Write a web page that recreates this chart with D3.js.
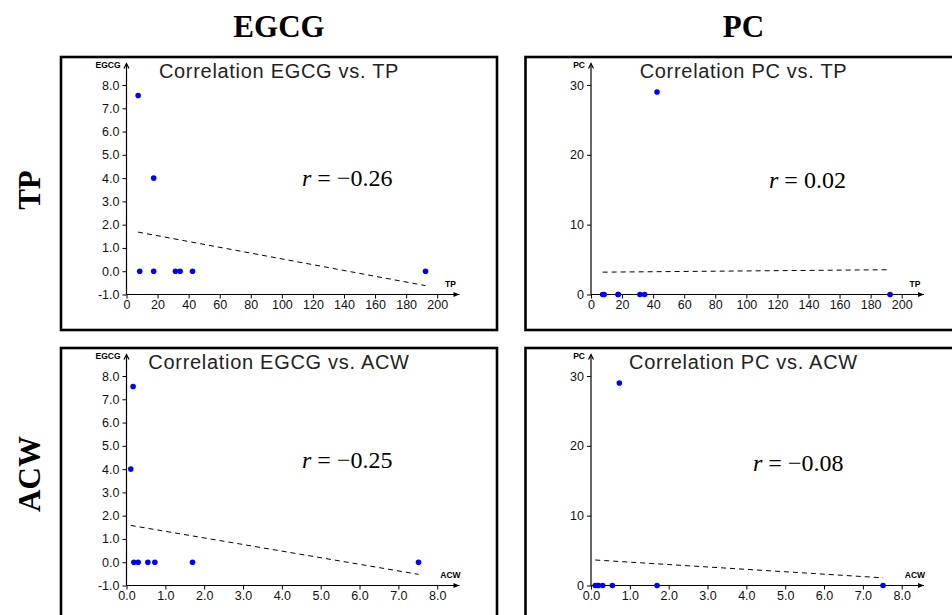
<!DOCTYPE html>
<html>
<head>
<meta charset="utf-8">
<script src="https://cdn.jsdelivr.net/npm/d3@7"></script>
<style>
  html, body { margin: 0; padding: 0; background: #fff; }
  svg { display: block; }
  .tick text { font-family: "Liberation Sans", Arial, sans-serif; font-size: 12.5px; fill: #111; }
  .tick line { stroke: #000; stroke-width: 1; }
</style>
</head>
<body>
<svg id="chart" width="952" height="615"></svg>
<script>
// Eight samples: total polyphenols (TP), antioxidant capacity (ACW), EGCG and PC content
const tp   = [7.5, 17.5, 42.5, 192.5, 8.5, 17.5, 31.5, 34.5];
const acw  = [0.17, 0.11, 0.73, 7.52, 0.19, 0.30, 0.55, 1.70];
const egcg = [7.55, 4.0, 0, 0, 0, 0, 0, 0];
const pc   = [0, 0, 29, 0, 0, 0, 0, 0];

// Least-squares trend lines, as [x, y] end points
const fitEgcgTp  = [[7.5, 1.68], [192.5, -0.62]];
const fitPcTp    = [[7.5, 3.2], [192.5, 3.55]];
const fitEgcgAcw = [[0.11, 1.58], [7.52, -0.52]];
const fitPcAcw   = [[0.11, 3.65], [7.52, 1.1]];

// Correlation coefficients
const rValues = [-0.26, 0.02, -0.25, -0.08];

// Axis ticks
const egcgTicks = [-1, 0, 1, 2, 3, 4, 5, 6, 7, 8];
const pcTicks   = [0, 10, 20, 30];
const tpTicks   = [0, 20, 40, 60, 80, 100, 120, 140, 160, 180, 200];
const acwTicks  = [0, 1, 2, 3, 4, 5, 6, 7, 8];

const colNames = ["EGCG", "PC"];
const rowNames = ["TP", "ACW"];

const svg = d3.select("#chart");
const fmtR = v => (v < 0 ? "\u2212" : "") + Math.abs(v).toFixed(2);
// tick labels use a plain hyphen for negatives
const fmt1 = v => d3.format(".1f")(v).replace("\u2212", "-");
const fmt0 = v => d3.format("d")(v).replace("\u2212", "-");

// grid geometry
const colX = [61, 525.5];      // panel left edges
const rowY = [57, 348];        // panel top edges
const boxW = 436, boxH = 273;

const panels = [
  { row: 0, col: 0, xs: tp,  ys: egcg, xName: "TP",  yName: "EGCG", xDom: [0, 200], yDom: [-1, 8],  xT: tpTicks,  yT: egcgTicks, yFmt: fmt1, xFmt: fmt0, fit: fitEgcgTp,  r: rValues[0], rPos: [302, 186] },
  { row: 0, col: 1, xs: tp,  ys: pc,   xName: "TP",  yName: "PC",   xDom: [0, 200], yDom: [0, 30],  xT: tpTicks,  yT: pcTicks,   yFmt: fmt0, xFmt: fmt0, fit: fitPcTp,    r: rValues[1], rPos: [769, 188] },
  { row: 1, col: 0, xs: acw, ys: egcg, xName: "ACW", yName: "EGCG", xDom: [0, 8],   yDom: [-1, 8],  xT: acwTicks, yT: egcgTicks, yFmt: fmt1, xFmt: fmt1, fit: fitEgcgAcw, r: rValues[2], rPos: [302, 468] },
  { row: 1, col: 1, xs: acw, ys: pc,   xName: "ACW", yName: "PC",   xDom: [0, 8],   yDom: [0, 30],  xT: acwTicks, yT: pcTicks,   yFmt: fmt0, xFmt: fmt1, fit: fitPcAcw,   r: rValues[3], rPos: [753, 471] }
];

// column headers
colNames.forEach((name, i) => {
  svg.append("text")
    .attr("x", colX[i] + boxW / 2).attr("y", 37)
    .attr("text-anchor", "middle")
    .attr("font-family", "'Liberation Serif', 'Times New Roman', serif")
    .attr("font-weight", "bold").attr("font-size", 31)
    .text(name);
});

// row headers, rotated
[190, 474].forEach((cy, i) => {
  svg.append("text")
    .attr("transform", `translate(40,${cy}) rotate(-90)`)
    .attr("text-anchor", "middle")
    .attr("font-family", "'Liberation Serif', 'Times New Roman', serif")
    .attr("font-weight", "bold").attr("font-size", 31)
    .text(rowNames[i]);
});

panels.forEach(p => {
  const left = colX[p.col], top = rowY[p.row];
  const g = svg.append("g");

  // frame
  g.append("rect")
    .attr("x", left).attr("y", top)
    .attr("width", boxW).attr("height", boxH + (p.row === 1 ? 20 : 0))
    .attr("fill", "none").attr("stroke", "#000").attr("stroke-width", 2.6);

  const x0 = left + 65.5;
  const x = d3.scaleLinear().domain(p.xDom).range([x0, x0 + 310.7]);
  const y = d3.scaleLinear().domain(p.yDom).range([top + 237.5, top + 28]);
  const yBase = y(p.yDom[0]);

  // title
  g.append("text")
    .attr("x", left + boxW / 2).attr("y", top + 20.5)
    .attr("text-anchor", "middle")
    .attr("font-family", "'Liberation Sans', Arial, sans-serif")
    .attr("font-size", 20).attr("letter-spacing", 0.7)
    .attr("fill", "#222")
    .text(`Correlation ${p.yName} vs. ${p.xName}`);

  // axes
  const ax = g.append("g").attr("transform", `translate(0,${yBase})`)
    .call(d3.axisBottom(x).tickValues(p.xT).tickFormat(p.xFmt).tickSize(4).tickPadding(2));
  ax.select(".domain").remove();

  const ay = g.append("g").attr("transform", `translate(${x0},0)`)
    .call(d3.axisLeft(y).tickValues(p.yT).tickFormat(p.yFmt).tickSize(4).tickPadding(3));
  ay.select(".domain").remove();

  // axis lines with arrowheads
  const yTip = top + 6.5, xTip = x0 + 333;
  g.append("line").attr("x1", x0).attr("x2", x0).attr("y1", yBase).attr("y2", yTip)
    .attr("stroke", "#000").attr("stroke-width", 1.2);
  g.append("path").attr("d", `M${x0 - 2.5},${yTip + 5} L${x0},${yTip} L${x0 + 2.5},${yTip + 5}`)
    .attr("fill", "none").attr("stroke", "#000").attr("stroke-width", 1.2);
  g.append("line").attr("x1", x0).attr("x2", xTip).attr("y1", yBase).attr("y2", yBase)
    .attr("stroke", "#000").attr("stroke-width", 1.2);
  g.append("path").attr("d", `M${xTip - 6},${yBase - 2.5} L${xTip},${yBase} L${xTip - 6},${yBase + 2.5} Z`)
    .attr("fill", "#000");

  // axis names
  g.append("text")
    .attr("x", x0 - 6).attr("y", top + 10.5)
    .attr("text-anchor", "end")
    .attr("font-family", "'Liberation Sans', Arial, sans-serif")
    .attr("font-size", 8.5).attr("font-weight", "bold")
    .text(p.yName);
  g.append("text")
    .attr("x", xTip - 9).attr("y", yBase - 8)
    .attr("text-anchor", "middle")
    .attr("font-family", "'Liberation Sans', Arial, sans-serif")
    .attr("font-size", 8.5).attr("font-weight", "bold")
    .text(p.xName);

  // trend line
  g.append("path")
    .attr("d", d3.line().x(d => x(d[0])).y(d => y(d[1]))(p.fit))
    .attr("fill", "none").attr("stroke", "#000").attr("stroke-width", 1)
    .attr("stroke-dasharray", "5,4");

  // samples
  g.selectAll("circle.pt").data(p.xs.map((v, i) => [v, p.ys[i]]))
    .join("circle").attr("class", "pt")
    .attr("cx", d => x(d[0])).attr("cy", d => y(d[1]))
    .attr("r", 2.8).attr("fill", "#0000ff");

  // correlation coefficient
  const rt = g.append("text")
    .attr("x", p.rPos[0]).attr("y", p.rPos[1])
    .attr("font-family", "'Liberation Serif', 'Times New Roman', serif")
    .attr("font-size", 24);
  rt.append("tspan").attr("font-style", "italic").text("r");
  rt.append("tspan").text(" = " + fmtR(p.r));
});
</script>
</body>
</html>
